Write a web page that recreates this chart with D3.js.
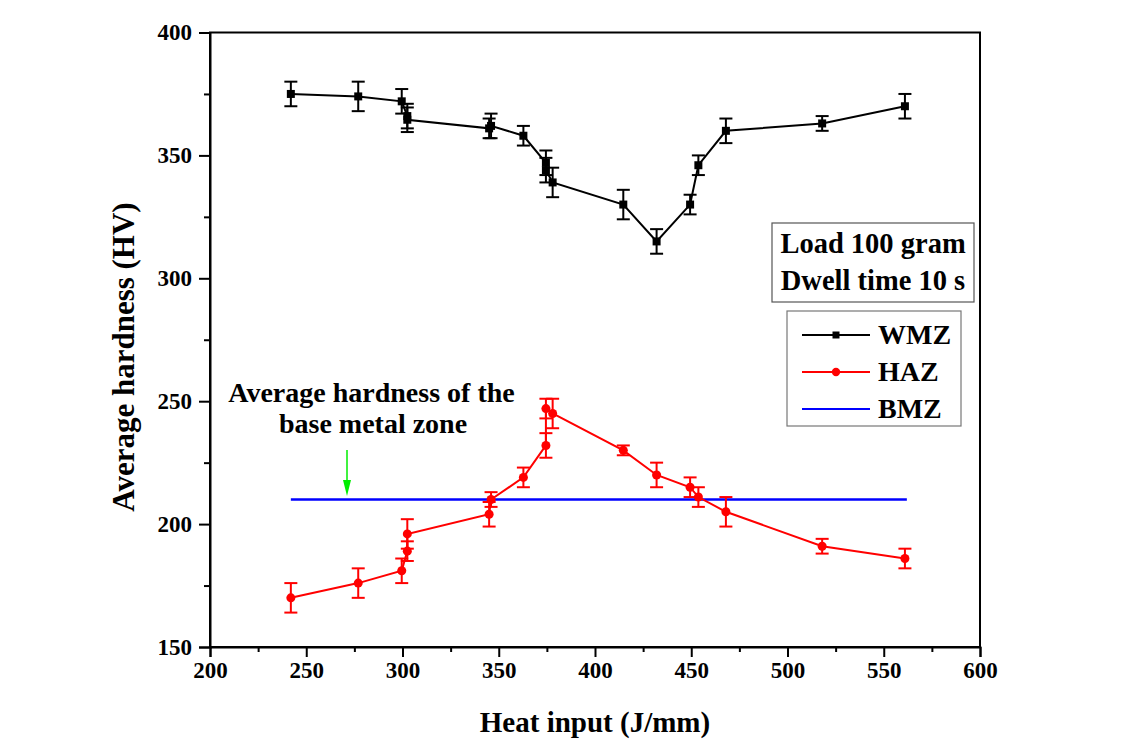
<!DOCTYPE html>
<html>
<head>
<meta charset="utf-8">
<script src="https://cdn.jsdelivr.net/npm/d3@7"></script>
<style>
  html, body { margin: 0; padding: 0; background: #fff; }
  svg { display: block; }
  text { font-family: "Liberation Serif", "Times New Roman", serif; font-weight: bold; fill: #000; }
</style>
</head>
<body>
<svg id="chart" width="1129" height="749"></svg>
<script>
// Heat input (J/mm) for each weld
const heatInput = [242, 277, 299.6, 302.5, 302.5, 345, 346, 362.8, 374.5, 374.5, 378, 414.7, 432, 449.4, 453.7, 468, 518, 561];

// Weld metal zone hardness (HV) and its spread
const wmzHardness = [375, 374, 372, 366, 364.5, 361, 362, 358, 347, 344, 339, 330, 315, 330, 346, 360, 363, 370];
const wmzError    = [5, 6, 5, 5, 5, 4, 5, 4, 5, 5, 6, 6, 5, 4, 4, 5, 3, 5];

// Heat affected zone hardness (HV) and its spread
const hazHardness = [170, 176, 181, 189, 196, 204, 210, 219, 232, 247, 245, 230, 220, 215, 211, 205, 191, 186];
const hazError    = [6, 6, 5, 4, 6, 5, 3, 4, 5, 4, 6, 2, 5, 4, 4, 6, 3, 4];

// Base metal zone average hardness, drawn across the tested range
const bmzHardness = 210;
const bmzRange = [242, 562];

const xTicks = [200, 250, 300, 350, 400, 450, 500, 550, 600];
const yTicks = [150, 200, 250, 300, 350, 400];
const legendLabels = ["WMZ", "HAZ", "BMZ"];
const noteLines = ["Load 100 gram", "Dwell time 10 s"];

const svg = d3.select("#chart");
const plotLeft = 210, plotRight = 980, plotTop = 32.5, plotBottom = 647;

const x = d3.scaleLinear().domain([200, 600]).range([plotLeft, plotRight]);
const y = d3.scaleLinear().domain([150, 400]).range([plotBottom, plotTop]);

// Minor ticks halfway between the labelled ones
const xMinor = d3.range(225, 600, 50);
const yMinor = d3.range(175, 400, 50);

// Frame
svg.append("rect")
  .attr("x", plotLeft).attr("y", plotTop)
  .attr("width", plotRight - plotLeft).attr("height", plotBottom - plotTop)
  .attr("fill", "none").attr("stroke", "#000").attr("stroke-width", 2);

// Bottom axis
const xAxis = svg.append("g").attr("transform", `translate(0,${plotBottom})`)
  .call(d3.axisBottom(x).tickValues(xTicks).tickSize(10).tickPadding(5).tickFormat(d3.format("d")));
xAxis.select(".domain").attr("stroke-width", 2);
xAxis.selectAll(".tick line").attr("stroke-width", 2);
xAxis.selectAll("text").attr("font-size", 23).attr("font-family", "Liberation Serif").attr("font-weight", "bold").attr("fill", "#000");
svg.append("g").attr("transform", `translate(0,${plotBottom})`)
  .call(d3.axisBottom(x).tickValues(xMinor).tickSize(5).tickFormat(""))
  .call(g => g.select(".domain").remove())
  .selectAll("line").attr("stroke-width", 2);

// Left axis
const yAxis = svg.append("g").attr("transform", `translate(${plotLeft},0)`)
  .call(d3.axisLeft(y).tickValues(yTicks).tickSize(11).tickPadding(7).tickFormat(d3.format("d")));
yAxis.select(".domain").attr("stroke-width", 2);
yAxis.selectAll(".tick line").attr("stroke-width", 2);
yAxis.selectAll("text").attr("font-size", 23).attr("font-family", "Liberation Serif").attr("font-weight", "bold").attr("fill", "#000");
svg.append("g").attr("transform", `translate(${plotLeft},0)`)
  .call(d3.axisLeft(y).tickValues(yMinor).tickSize(6).tickFormat(""))
  .call(g => g.select(".domain").remove())
  .selectAll("line").attr("stroke-width", 2);

// Axis titles
svg.append("text")
  .attr("x", 595).attr("y", 732)
  .attr("text-anchor", "middle").attr("font-size", 29)
  .text("Heat input (J/mm)");
svg.append("text")
  .attr("transform", `translate(134,357) rotate(-90)`)
  .attr("text-anchor", "middle").attr("font-size", 31)
  .text("Average hardness (HV)");

// Base metal reference line
svg.append("line")
  .attr("x1", x(bmzRange[0])).attr("x2", x(bmzRange[1]))
  .attr("y1", y(bmzHardness)).attr("y2", y(bmzHardness))
  .attr("stroke", "#0000ff").attr("stroke-width", 2.5);

// Draws one measured series: connecting line, error bars, markers
function drawSeries(values, errors, color, shape) {
  const pts = heatInput.map((h, i) => ({ h, v: values[i], e: errors[i] }));
  const g = svg.append("g");
  g.append("path")
    .datum(pts)
    .attr("fill", "none").attr("stroke", color).attr("stroke-width", 2)
    .attr("d", d3.line().x(d => x(d.h)).y(d => y(d.v)));
  const eb = g.selectAll(".eb").data(pts).join("g").attr("stroke", color).attr("stroke-width", 2);
  eb.append("line")
    .attr("x1", d => x(d.h)).attr("x2", d => x(d.h))
    .attr("y1", d => y(d.v - d.e)).attr("y2", d => y(d.v + d.e));
  [-1, 1].forEach(s => {
    eb.append("line")
      .attr("x1", d => x(d.h) - 6.5).attr("x2", d => x(d.h) + 6.5)
      .attr("y1", d => y(d.v + s * d.e)).attr("y2", d => y(d.v + s * d.e));
  });
  const sym = d3.symbol().type(shape).size(shape === d3.symbolSquare ? 64 : 64);
  g.selectAll(".mk").data(pts).join("path")
    .attr("transform", d => `translate(${x(d.h)},${y(d.v)})`)
    .attr("d", sym).attr("fill", color);
}

drawSeries(hazHardness, hazError, "#ff0000", d3.symbolCircle);
drawSeries(wmzHardness, wmzError, "#000000", d3.symbolSquare);

// Annotation for the base metal line
svg.append("text").attr("x", 371.5).attr("y", 402).attr("text-anchor", "middle").attr("font-size", 28)
  .text("Average hardness of the");
svg.append("text").attr("x", 373).attr("y", 433).attr("text-anchor", "middle").attr("font-size", 28)
  .text("base metal zone");
const arrowX = 347;
svg.append("line").attr("x1", arrowX).attr("x2", arrowX).attr("y1", 450).attr("y2", 482)
  .attr("stroke", "#00ee00").attr("stroke-width", 1.5);
svg.append("path")
  .attr("d", `M${arrowX - 4},480 L${arrowX + 4},480 L${arrowX},496 Z`)
  .attr("fill", "#00ee00");

// Test condition note
svg.append("rect").attr("x", 772).attr("y", 223).attr("width", 202).attr("height", 79)
  .attr("fill", "#fff").attr("stroke", "#555").attr("stroke-width", 1.2);
noteLines.forEach((t, i) => {
  svg.append("text").attr("x", 873).attr("y", 253 + i * 37).attr("text-anchor", "middle")
    .attr("font-size", 28.5).text(t);
});

// Legend
svg.append("rect").attr("x", 787).attr("y", 311).attr("width", 174).attr("height", 115)
  .attr("fill", "#fff").attr("stroke", "#777").attr("stroke-width", 1.2);
const legendColors = ["#000000", "#ff0000", "#0000ff"];
const legendShapes = [d3.symbolSquare, d3.symbolCircle, null];
legendLabels.forEach((lab, i) => {
  const ly = 335 + i * 37;
  svg.append("line").attr("x1", 802).attr("x2", 870).attr("y1", ly).attr("y2", ly)
    .attr("stroke", legendColors[i]).attr("stroke-width", 2);
  if (legendShapes[i]) {
    svg.append("path").attr("transform", `translate(836,${ly})`)
      .attr("d", d3.symbol().type(legendShapes[i]).size(legendShapes[i] === d3.symbolSquare ? 49 : 55)())
      .attr("fill", legendColors[i]);
  }
  svg.append("text").attr("x", 878).attr("y", ly + 9).attr("font-size", 28).text(lab);
});
</script>
</body>
</html>
